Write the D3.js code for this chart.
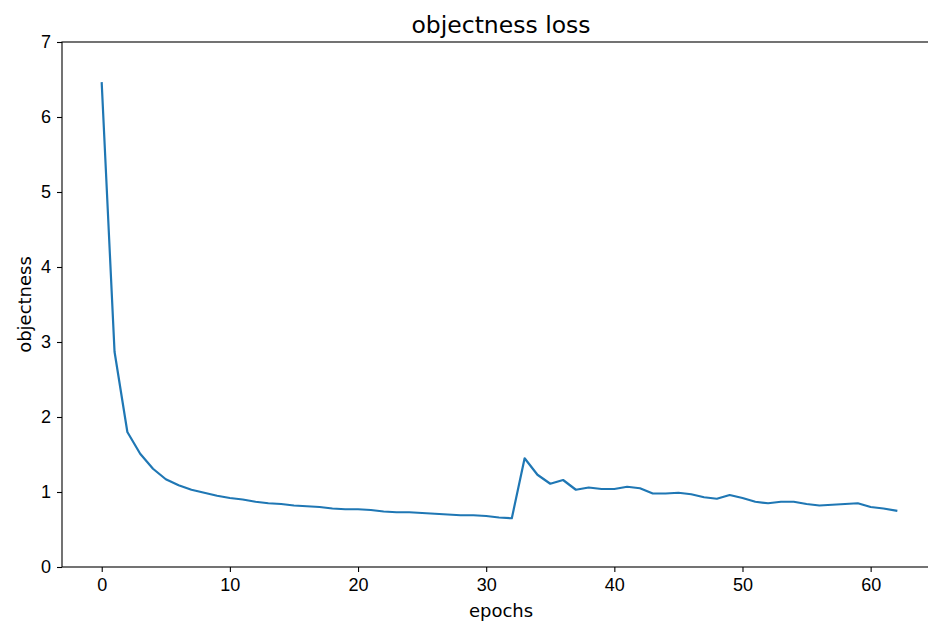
<!DOCTYPE html>
<style>
body { margin: 0; background: #fff; }
svg { display: block; font-family: "DejaVu Sans", sans-serif; }
.axis text { font-size: 18px; fill: #000; }
.axis path, .axis line { stroke: #000; stroke-width: 1.1; }
.lossLine { fill: none; stroke: #1f77b4; stroke-width: 2.2; stroke-linejoin: round; stroke-linecap: square; }
</style>
<svg width="928" height="623"></svg>
<script src="https://d3js.org/d3.v7.min.js"></script>
<script>

var epochs = d3.range(0, 63);
var objectness = [
  6.45, 2.87, 1.80, 1.51, 1.31, 1.17, 1.09, 1.03, 0.99, 0.95,
  0.92, 0.90, 0.87, 0.85, 0.84, 0.82, 0.81, 0.80, 0.78, 0.77,
  0.77, 0.76, 0.74, 0.73, 0.73, 0.72, 0.71, 0.70, 0.69, 0.69,
  0.68, 0.66, 0.65, 1.45, 1.23, 1.11, 1.16, 1.03, 1.06, 1.04,
  1.04, 1.07, 1.05, 0.98, 0.98, 0.99, 0.97, 0.93, 0.91, 0.96,
  0.92, 0.87, 0.85, 0.87, 0.87, 0.84, 0.82, 0.83, 0.84, 0.85,
  0.80, 0.78, 0.75
];
var xTicks = [0, 10, 20, 30, 40, 50, 60];
var yTicks = [0, 1, 2, 3, 4, 5, 6, 7];

var svg = d3.select("svg"),
    margin = { top: 42, left: 62, bottom: 56 },
    height = 623 - margin.top - margin.bottom,
    plotRight = 936;

var x = d3.scaleLinear().domain([-3.1, 65.1]).range([margin.left, plotRight]);
var y = d3.scaleLinear().domain([0, 7]).range([margin.top + height, margin.top]);

// frame
svg.append("rect")
  .attr("x", margin.left)
  .attr("y", margin.top)
  .attr("width", plotRight - margin.left)
  .attr("height", height)
  .attr("fill", "none")
  .attr("stroke", "#000")
  .attr("stroke-width", 1.1);

svg.append("g")
  .attr("class", "axis")
  .attr("transform", "translate(0," + (margin.top + height) + ")")
  .call(d3.axisBottom(x).tickValues(xTicks).tickFormat(d3.format("d"))
    .tickSize(5).tickPadding(6).tickSizeOuter(0))
  .call(g => g.select(".domain").remove());

svg.append("g")
  .attr("class", "axis")
  .attr("transform", "translate(" + margin.left + ",0)")
  .call(d3.axisLeft(y).tickValues(yTicks).tickFormat(d3.format("d"))
    .tickSize(5).tickPadding(6).tickSizeOuter(0))
  .call(g => g.select(".domain").remove());

var line = d3.line()
  .x((d, i) => x(epochs[i]))
  .y(d => y(d));

svg.append("path")
  .datum(objectness)
  .attr("class", "lossLine")
  .attr("d", line);

svg.append("text")
  .attr("x", 501)
  .attr("y", 33)
  .attr("text-anchor", "middle")
  .attr("font-size", 23.5)
  .text("objectness loss");

svg.append("text")
  .attr("x", 501)
  .attr("y", 617)
  .attr("text-anchor", "middle")
  .attr("font-size", 18)
  .text("epochs");

svg.append("text")
  .attr("transform", "translate(31," + (margin.top + height / 2) + ") rotate(-90)")
  .attr("text-anchor", "middle")
  .attr("font-size", 18)
  .text("objectness");
</script>
